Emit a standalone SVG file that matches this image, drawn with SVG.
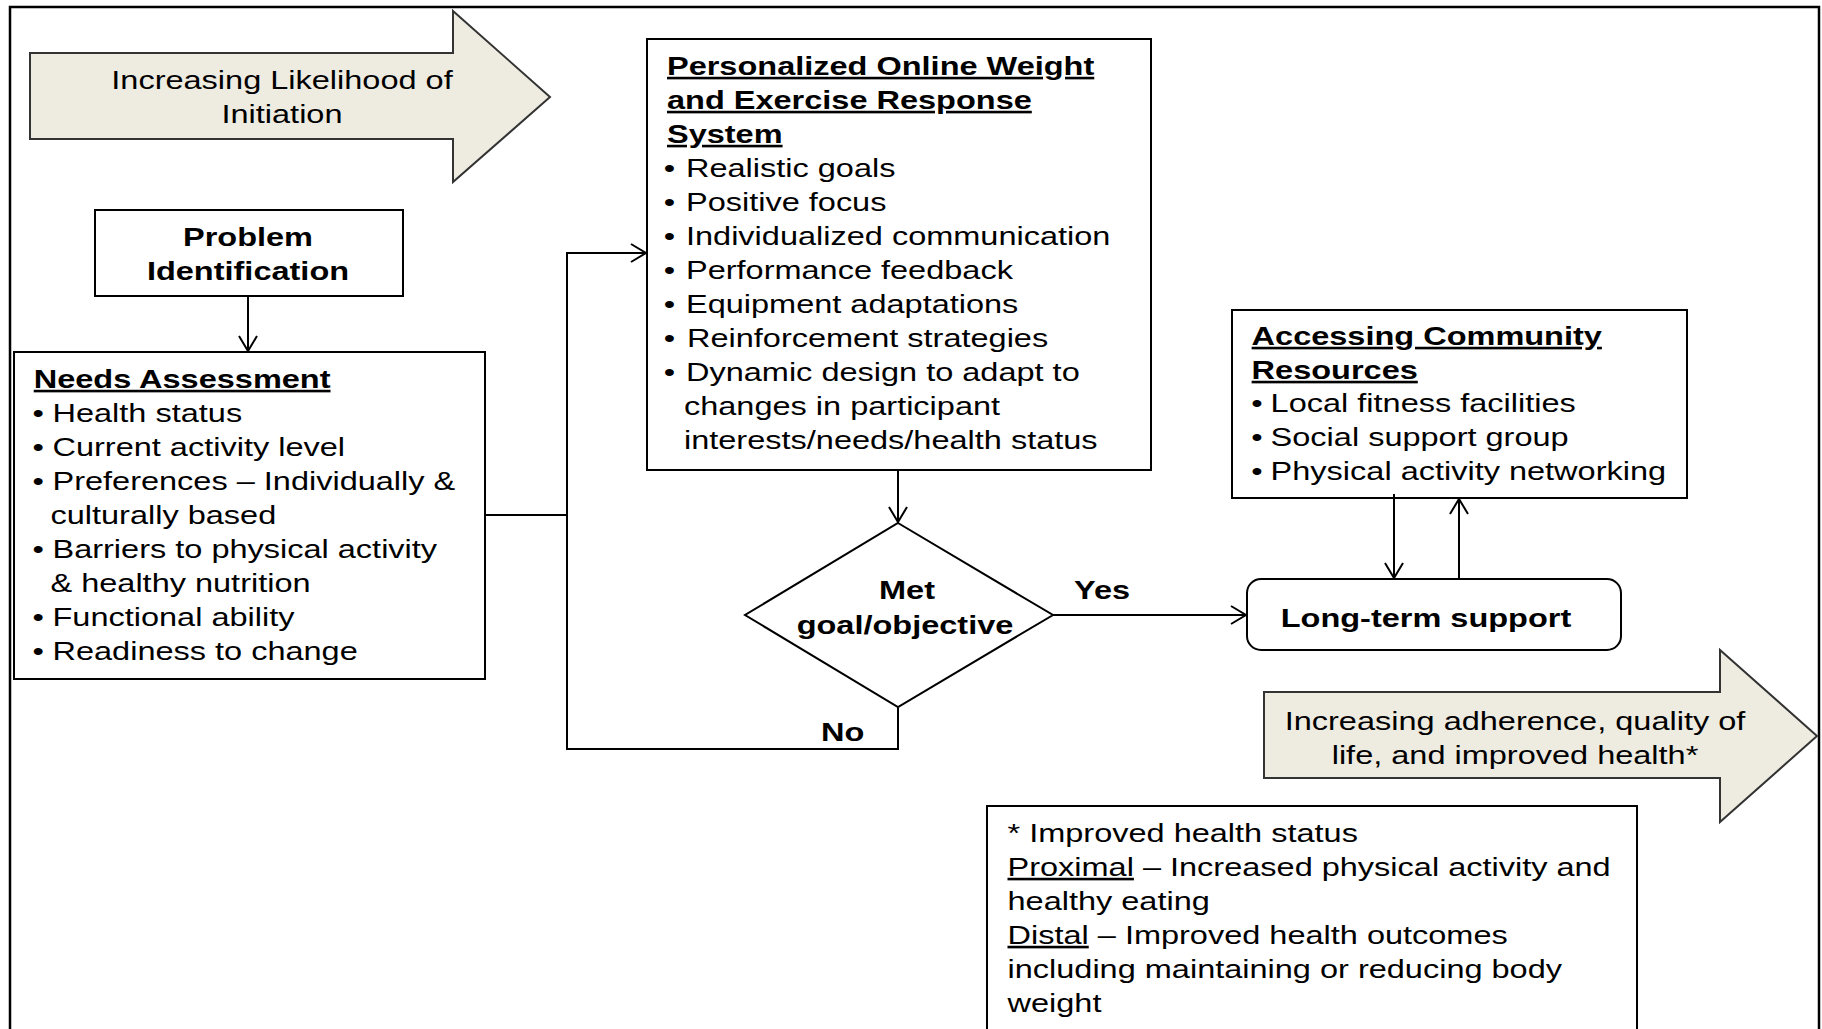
<svg xmlns="http://www.w3.org/2000/svg" width="1822" height="1029" viewBox="0 0 1822 1029">
<style>
.t{font-family:"Liberation Sans",Arial,sans-serif;font-size:26px;fill:#000}
.b{font-weight:bold}
.u{text-decoration:underline}
.m{text-anchor:middle}
.box{fill:#fff;stroke:#000;stroke-width:2}
.big{fill:#EEECE1;stroke:#333;stroke-width:2}
.conn{fill:none;stroke:#000;stroke-width:2}
</style>
<defs>
<marker id="arr" markerUnits="userSpaceOnUse" markerWidth="20" markerHeight="20" viewBox="0 0 20 20" refX="16" refY="10" orient="auto">
<path d="M1,1 L16,10 L1,19" fill="none" stroke="#000" stroke-width="2"/>
</marker>
</defs>
<rect x="0" y="0" width="1822" height="1029" fill="#fff"/>
<rect x="10" y="7" width="1809" height="1040" fill="none" stroke="#000" stroke-width="2.5"/>

<g id="arrow-initiation">
<polygon class="big" points="30,53 453,53 453,11 550,97 453,182 453,139 30,139"/>
<g transform="scale(1.25,1)">
<text class="t m" x="225.6" y="89">Increasing Likelihood of</text>
<text class="t m" x="225.6" y="123">Initiation</text>
</g>
</g>

<g id="problem-identification">
<rect class="box" x="95" y="210" width="308" height="86"/>
<g transform="scale(1.25,1)">
<text class="t b m" x="198.4" y="246">Problem</text>
<text class="t b m" x="198.4" y="280">Identification</text>
</g>
</g>

<g id="needs-assessment">
<rect class="box" x="14" y="352" width="471" height="327"/>
<g transform="scale(1.25,1)">
<text class="t b u" x="27" y="388">Needs Assessment</text>
<text class="t" x="26" y="422">•</text><text class="t" x="42" y="422">Health status</text>
<text class="t" x="26" y="456">•</text><text class="t" x="42" y="456">Current activity level</text>
<text class="t" x="26" y="490">•</text><text class="t" x="42" y="490">Preferences – Individually &amp;</text>
<text class="t" x="40.4" y="524">culturally based</text>
<text class="t" x="26" y="558">•</text><text class="t" x="42" y="558">Barriers to physical activity</text>
<text class="t" x="40.4" y="592">&amp; healthy nutrition</text>
<text class="t" x="26" y="626">•</text><text class="t" x="42" y="626">Functional ability</text>
<text class="t" x="26" y="660">•</text><text class="t" x="42" y="660">Readiness to change</text>
</g>
</g>

<g id="powers-system">
<rect class="box" x="647" y="39" width="504" height="431"/>
<g transform="scale(1.25,1)">
<text class="t b u" x="533.6" y="75">Personalized Online Weight</text>
<text class="t b u" x="533.6" y="109">and Exercise Response</text>
<text class="t b u" x="533.6" y="143">System</text>
<text class="t" x="531" y="177">•</text><text class="t" x="548.8" y="177">Realistic goals</text>
<text class="t" x="531" y="211">•</text><text class="t" x="548.8" y="211">Positive focus</text>
<text class="t" x="531" y="245">•</text><text class="t" x="548.8" y="245">Individualized communication</text>
<text class="t" x="531" y="279">•</text><text class="t" x="548.8" y="279">Performance feedback</text>
<text class="t" x="531" y="313">•</text><text class="t" x="548.8" y="313">Equipment adaptations</text>
<text class="t" x="531" y="347">•</text><text class="t" x="549.6" y="347">Reinforcement strategies</text>
<text class="t" x="531" y="381">•</text><text class="t" x="548.8" y="381">Dynamic design to adapt to</text>
<text class="t" x="547.2" y="415">changes in participant</text>
<text class="t" x="547.2" y="449">interests/needs/health status</text>
</g>
</g>

<g id="decision">
<polygon class="box" points="898,523 1053,615 898,707 745,615"/>
<g transform="scale(1.25,1)">
<text class="t b m" x="725.6" y="599">Met</text>
<text class="t b m" x="724" y="634">goal/objective</text>
</g>
</g>

<g id="community-resources">
<rect class="box" x="1232" y="310" width="455" height="188"/>
<g transform="scale(1.25,1)">
<text class="t b u" x="1001.3" y="345">Accessing Community</text>
<text class="t b u" x="1001.3" y="379">Resources</text>
<text class="t" x="1001" y="412">•</text><text class="t" x="1016.5" y="412">Local fitness facilities</text>
<text class="t" x="1001" y="446">•</text><text class="t" x="1016.5" y="446">Social support group</text>
<text class="t" x="1001" y="480">•</text><text class="t" x="1016.5" y="480">Physical activity networking</text>
</g>
</g>

<g id="long-term-support">
<rect class="box" x="1247" y="579" width="374" height="71" rx="14" ry="14"/>
<g transform="scale(1.25,1)">
<text class="t b m" x="1140.8" y="627">Long-term support</text>
</g>
</g>

<g id="arrow-adherence">
<polygon class="big" points="1264,692 1720,692 1720,650 1817,736 1720,822 1720,778 1264,778"/>
<g transform="scale(1.25,1)">
<text class="t m" x="1212" y="730">Increasing adherence, quality of</text>
<text class="t m" x="1212" y="764">life, and improved health*</text>
</g>
</g>

<g id="footnote">
<rect class="box" x="987" y="806" width="650" height="240"/>
<g transform="scale(1.25,1)">
<text class="t" x="806" y="842">* Improved health status</text>
<text class="t" x="806" y="876"><tspan style="text-decoration:underline">Proximal</tspan> – Increased physical activity and</text>
<text class="t" x="806" y="910">healthy eating</text>
<text class="t" x="806" y="944"><tspan style="text-decoration:underline">Distal</tspan> – Improved health outcomes</text>
<text class="t" x="806" y="978">including maintaining or reducing body</text>
<text class="t" x="806" y="1012">weight</text>
</g>
</g>

<g id="connectors">
<line class="conn" x1="248" y1="296" x2="248" y2="351" marker-end="url(#arr)"/>
<path class="conn" d="M485,515 H567 V253 H646" marker-end="url(#arr)"/>
<line class="conn" x1="898" y1="470" x2="898" y2="522" marker-end="url(#arr)"/>
<line class="conn" x1="1053" y1="615" x2="1246" y2="615" marker-end="url(#arr)"/>
<path class="conn" d="M898,707 V749 H567 V515"/>
<line class="conn" x1="1394" y1="494" x2="1394" y2="578" marker-end="url(#arr)"/>
<line class="conn" x1="1459" y1="579" x2="1459" y2="499" marker-end="url(#arr)"/>
<g transform="scale(1.25,1)">
<text class="t b" x="859.2" y="599">Yes</text>
<text class="t b" x="656.8" y="741">No</text>
</g>
</g>
</svg>
